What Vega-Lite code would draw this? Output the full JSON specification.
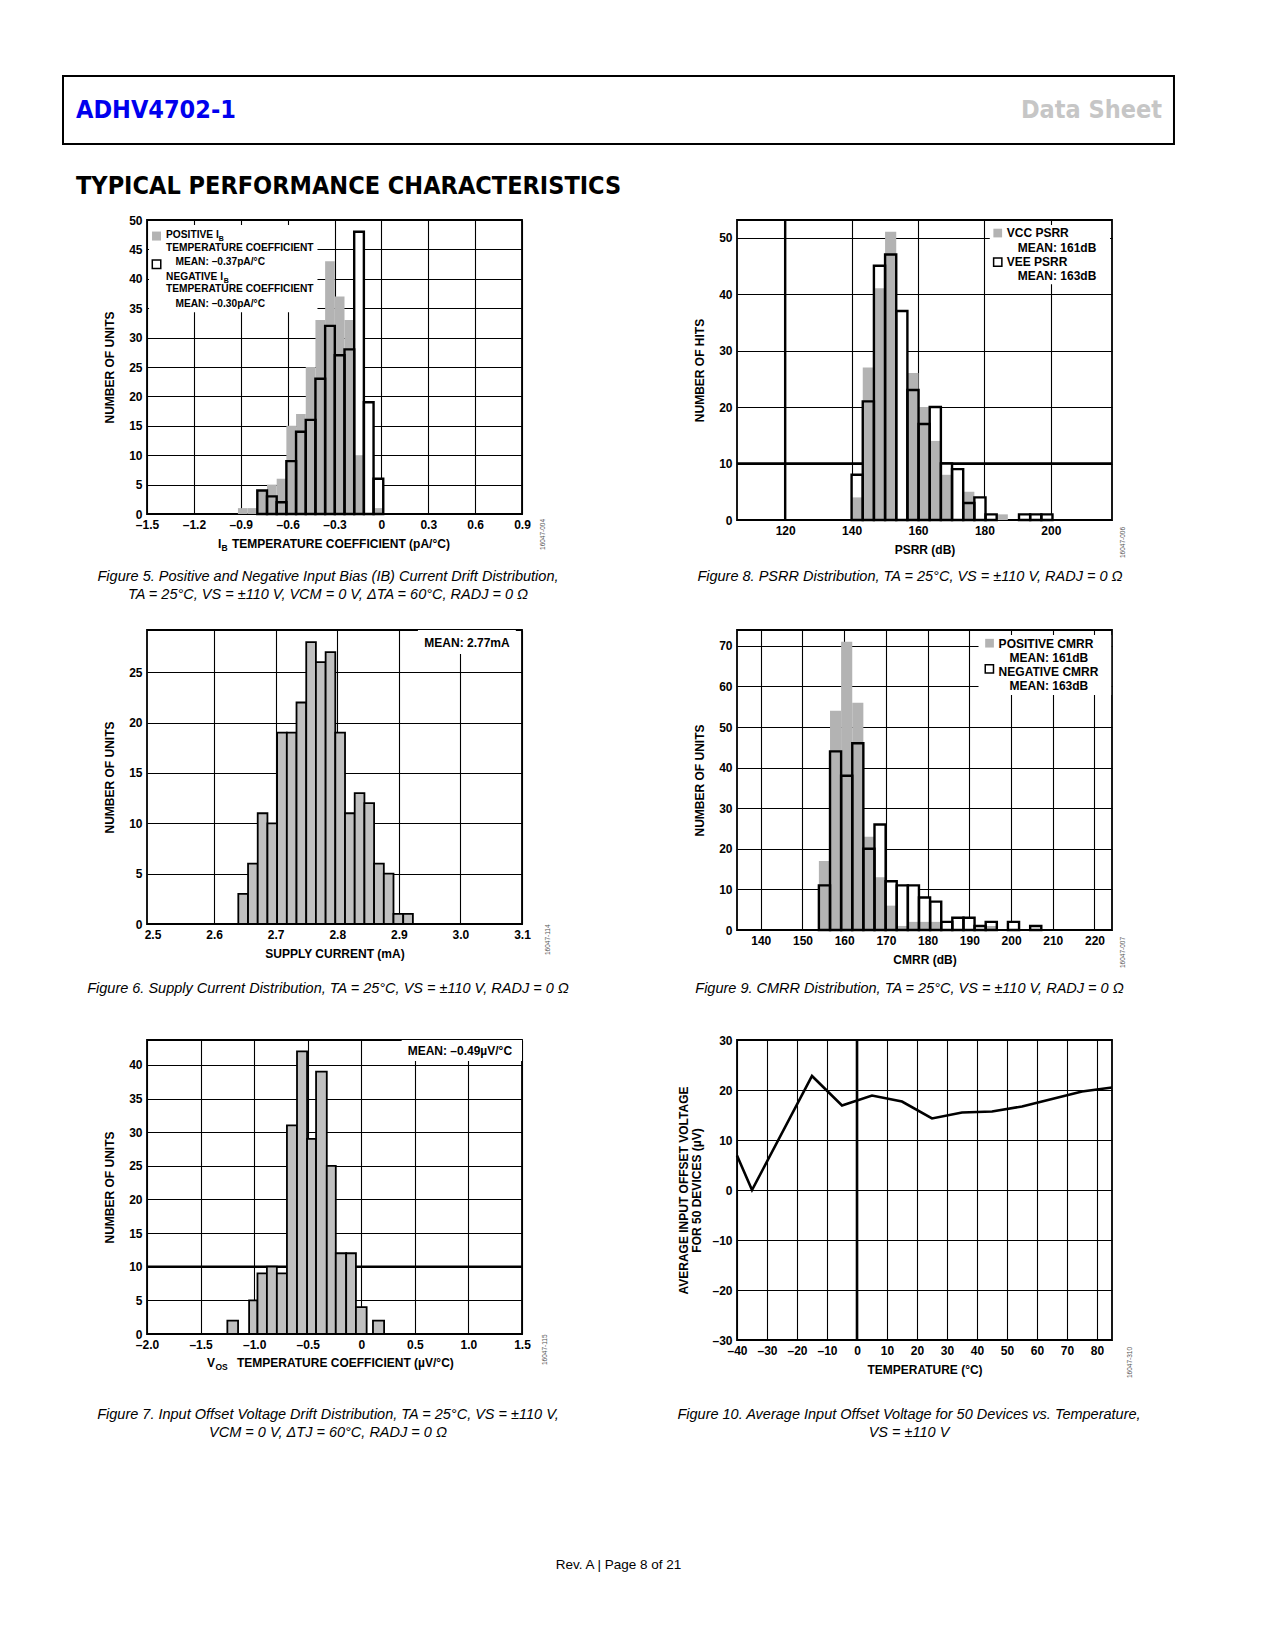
{
"$schema": "https://vega.github.io/schema/vega-lite/v6.json",
"autosize": {"type": "pad"},
"padding": {"left": 62, "top": 75, "right": 5, "bottom": 5},
"background": "#ffffff",
"columns": 4,
"spacing": 0,
"bounds": "flush",
"align": {"row": "each", "column": "each"},
"config": {
  "font": "Liberation Sans",
  "view": {"stroke": "#000000", "strokeWidth": 1.8},
  "axis": {"domain": false, "ticks": false, "grid": true, "gridColor": "#000000", "gridOpacity": 1, "gridWidth": 1.1, "tickCount": 40,
    "labelFont": "Liberation Sans", "labelFontSize": 12, "labelFontWeight": "bold", "labelColor": "#000000", "labelPadding": 5,
    "labelFlush": false, "labelOverlap": false, "labelBound": false,
    "titleFont": "Liberation Sans", "titleFontSize": 12, "titleFontWeight": "bold", "titleColor": "#000000"},
  "axisX": {"titlePadding": 8},
  "axisY": {"titlePadding": 12},
  "text": {"font": "Liberation Sans", "color": "#000000"}
},
"concat": [
  {
    "width": 84, "height": 68,
    "view": {"stroke": null},
    "data": {"values": [{}]},
    "layer": [
      {"mark": {"type": "rect", "fill": null, "stroke": "#000000", "strokeWidth": 2},
       "encoding": {"x": {"datum": 0, "type": "quantitative", "scale": {"domain": [0, 1], "nice": false, "zero": false}, "axis": null}, "x2": {"datum": 13.226},
                    "y": {"datum": 0, "type": "quantitative", "scale": {"domain": [0, 1], "nice": false, "zero": false}, "axis": null}, "y2": {"datum": 1}}},
      {"mark": {"type": "text", "text": "ADHV4702-1", "font": "Liberation Sans Narrow, DejaVu Sans Condensed, sans-serif", "fontWeight": "bold", "fontSize": 25, "color": "#0000ee", "align": "left", "baseline": "middle"},
       "encoding": {"x": {"datum": 0.1548, "type": "quantitative", "axis": null}, "y": {"datum": 0.5, "type": "quantitative", "axis": null}}},
      {"mark": {"type": "text", "text": "Data Sheet", "font": "Liberation Sans Narrow, DejaVu Sans Condensed, sans-serif", "fontWeight": "bold", "fontSize": 25, "color": "#c6c6c6", "align": "right", "baseline": "middle"},
       "encoding": {"x": {"datum": 13.083, "type": "quantitative", "axis": null}, "y": {"datum": 0.5, "type": "quantitative", "axis": null}}},
      {"mark": {"type": "text", "text": "TYPICAL PERFORMANCE CHARACTERISTICS", "font": "Liberation Sans Narrow, DejaVu Sans Condensed, sans-serif", "fontWeight": "bold", "fontSize": 25, "color": "#000000", "align": "left", "baseline": "middle"},
       "encoding": {"x": {"datum": 0.1548, "type": "quantitative", "axis": null}, "y": {"datum": -0.6176, "type": "quantitative", "axis": null}}}
    ]
  },
  {"width": 1, "height": 144, "view": {"stroke": null}, "data": {"values": []}, "mark": "text", "encoding": {"text": {"field": "t", "type": "nominal"}}},
  {"width": 1, "height": 1, "view": {"stroke": null}, "data": {"values": []}, "mark": "text", "encoding": {"text": {"field": "t", "type": "nominal"}}},
  {"width": 1, "height": 1, "view": {"stroke": null}, "data": {"values": []}, "mark": "text", "encoding": {"text": {"field": "t", "type": "nominal"}}},

  {"width": 84, "height": 410, "view": {"stroke": null}, "data": {"values": []}, "mark": "text", "encoding": {"text": {"field": "t", "type": "nominal"}}},
  {
    "width": 375, "height": 294,
    "data": {"values": [
      {"lo": -0.918, "hi": -0.856, "pos": 1, "neg": 0},
      {"lo": -0.856, "hi": -0.794, "pos": 1, "neg": 0},
      {"lo": -0.794, "hi": -0.732, "pos": 4, "neg": 4},
      {"lo": -0.732, "hi": -0.670, "pos": 5, "neg": 3},
      {"lo": -0.670, "hi": -0.608, "pos": 6, "neg": 2},
      {"lo": -0.608, "hi": -0.546, "pos": 15, "neg": 9},
      {"lo": -0.546, "hi": -0.484, "pos": 17, "neg": 14},
      {"lo": -0.484, "hi": -0.422, "pos": 25, "neg": 16},
      {"lo": -0.422, "hi": -0.360, "pos": 33, "neg": 23},
      {"lo": -0.360, "hi": -0.298, "pos": 43, "neg": 32},
      {"lo": -0.298, "hi": -0.236, "pos": 37, "neg": 27},
      {"lo": -0.236, "hi": -0.174, "pos": 33, "neg": 28},
      {"lo": -0.174, "hi": -0.112, "pos": 10, "neg": 48},
      {"lo": -0.112, "hi": -0.050, "pos": 0, "neg": 19},
      {"lo": -0.050, "hi": 0.012, "pos": 1, "neg": 6}
    ]},
    "layer": [
      {"mark": {"type": "rect", "fill": "#ffffff"}, "transform": [{"filter": "datum.neg > 0"}],
       "encoding": {
         "x": {"field": "lo", "type": "quantitative", "scale": {"domain": [-1.5, 0.9], "nice": false, "zero": false},
               "axis": {"values": [-1.5, -1.2, -0.9, -0.6, -0.3, 0, 0.3, 0.6, 0.9], "title": null,
                        "labelExpr": "datum.value == 0 ? '0' : replace(replace(format(datum.value, '.1f'), '\u2212', '\u2013'), '-', '\u2013')"}},
         "x2": {"field": "hi"},
         "y": {"field": "neg", "type": "quantitative", "scale": {"domain": [0, 50], "nice": false, "zero": false},
               "axis": {"values": [0, 5, 10, 15, 20, 25, 30, 35, 40, 45, 50], "title": "NUMBER OF UNITS"}},
         "y2": {"datum": 0}}},
      {"mark": {"type": "rect", "fill": "#b3b3b3"}, "transform": [{"filter": "datum.pos > 0"}],
       "encoding": {"x": {"field": "lo", "type": "quantitative"}, "x2": {"field": "hi"},
                    "y": {"field": "pos", "type": "quantitative"}, "y2": {"datum": 0}}},
      {"mark": {"type": "rect", "fill": null, "stroke": "#000000", "strokeWidth": 2.4}, "transform": [{"filter": "datum.neg > 0"}],
       "encoding": {"x": {"field": "lo", "type": "quantitative"}, "x2": {"field": "hi"},
                    "y": {"field": "neg", "type": "quantitative"}, "y2": {"datum": 0}}},
      {"data": {"values": [{}]}, "mark": {"type": "rect", "fill": "#ffffff"},
       "encoding": {"x": {"datum": -1.487, "type": "quantitative"}, "x2": {"datum": -0.409},
                    "y": {"datum": 49.15, "type": "quantitative"}, "y2": {"datum": 34.3}}},
      {"data": {"values": [{}]}, "mark": {"type": "point", "shape": "square", "filled": true, "fill": "#b3b3b3", "size": 81, "opacity": 1},
       "encoding": {"x": {"datum": -1.439, "type": "quantitative"}, "y": {"datum": 47.27, "type": "quantitative"}}},
      {"data": {"values": [{}]}, "mark": {"type": "point", "shape": "square", "filled": true, "fill": "#ffffff", "stroke": "#000000", "strokeWidth": 1.5, "size": 72, "opacity": 1},
       "encoding": {"x": {"datum": -1.439, "type": "quantitative"}, "y": {"datum": 42.49, "type": "quantitative"}}},
      {"data": {"values": [{}]}, "mark": {"type": "text", "text": ["POSITIVE I", "TEMPERATURE COEFFICIENT"], "align": "left", "baseline": "middle", "lineHeight": 13, "fontSize": 10.2, "fontWeight": "bold"},
       "encoding": {"x": {"datum": -1.378, "type": "quantitative"}, "y": {"datum": 47.39, "type": "quantitative"}}},
      {"data": {"values": [{}]}, "mark": {"type": "text", "text": ["NEGATIVE I", "TEMPERATURE COEFFICIENT"], "align": "left", "baseline": "middle", "lineHeight": 12.5, "fontSize": 10.2, "fontWeight": "bold"},
       "encoding": {"x": {"datum": -1.378, "type": "quantitative"}, "y": {"datum": 40.32, "type": "quantitative"}}},
      {"data": {"values": [{}]}, "mark": {"type": "text", "text": ["MEAN: \u20130.37pA/\u00b0C", "MEAN: \u20130.30pA/\u00b0C"], "align": "left", "baseline": "middle", "lineHeight": 41.7, "fontSize": 10.2, "fontWeight": "bold"},
       "encoding": {"x": {"datum": -1.318, "type": "quantitative"}, "y": {"datum": 42.83, "type": "quantitative"}}},
      {"data": {"values": [{}]}, "mark": {"type": "text", "text": "B", "align": "left", "baseline": "middle", "fontSize": 7, "fontWeight": "bold"},
       "encoding": {"x": {"datum": -1.041, "type": "quantitative"}, "y": {"datum": 46.76, "type": "quantitative"}}},
      {"data": {"values": [{}]}, "mark": {"type": "text", "text": "B", "align": "left", "baseline": "middle", "fontSize": 7, "fontWeight": "bold"},
       "encoding": {"x": {"datum": -1.009, "type": "quantitative"}, "y": {"datum": 39.64, "type": "quantitative"}}},
      {"data": {"values": [{}]}, "mark": {"type": "text", "text": "I", "align": "left", "baseline": "middle", "fontSize": 12, "fontWeight": "bold"},
       "encoding": {"x": {"datum": -1.0456, "type": "quantitative"}, "y": {"datum": -5.1, "type": "quantitative"}}},
      {"data": {"values": [{}]}, "mark": {"type": "text", "text": "B", "align": "left", "baseline": "middle", "fontSize": 8.5, "fontWeight": "bold"},
       "encoding": {"x": {"datum": -1.0232, "type": "quantitative"}, "y": {"datum": -5.78, "type": "quantitative"}}},
      {"data": {"values": [{}]}, "mark": {"type": "text", "text": "TEMPERATURE COEFFICIENT (pA/\u00b0C)", "align": "left", "baseline": "middle", "fontSize": 12, "fontWeight": "bold"},
       "encoding": {"x": {"datum": -0.956, "type": "quantitative"}, "y": {"datum": -5.1, "type": "quantitative"}}},
      {"data": {"values": [{}]}, "mark": {"type": "text", "text": ["Figure 5. Positive and Negative Input Bias (IB) Current Drift Distribution,", "TA = 25\u00b0C, VS = \u00b1110 V, VCM = 0 V, \u0394TA = 60\u00b0C, RADJ = 0 \u03a9"], "align": "center", "baseline": "middle", "lineHeight": 18, "fontSize": 14.5, "fontStyle": "italic"},
       "encoding": {"x": {"datum": -0.3416, "type": "quantitative"}, "y": {"datum": -10.714, "type": "quantitative"}}},
      {"data": {"values": [{}]}, "mark": {"type": "text", "text": "16047-004", "align": "left", "baseline": "middle", "angle": 270, "fontSize": 6.5, "color": "#555555"},
       "encoding": {"x": {"datum": 1.0344, "type": "quantitative"}, "y": {"datum": -6.12, "type": "quantitative"}}}
    ]
  },
  {"width": 215, "height": 1, "view": {"stroke": null}, "data": {"values": []}, "mark": "text", "encoding": {"text": {"field": "t", "type": "nominal"}}},
  {
    "width": 375, "height": 300,
    "data": {"values": [
      {"lo": 140.00, "hi": 143.36, "vcc": 4, "vee": 8},
      {"lo": 143.36, "hi": 146.72, "vcc": 27, "vee": 21},
      {"lo": 146.72, "hi": 150.08, "vcc": 41, "vee": 45},
      {"lo": 150.08, "hi": 153.44, "vcc": 51, "vee": 47},
      {"lo": 153.44, "hi": 156.80, "vcc": 0, "vee": 37},
      {"lo": 156.80, "hi": 160.16, "vcc": 26, "vee": 23},
      {"lo": 160.16, "hi": 163.52, "vcc": 20, "vee": 17},
      {"lo": 163.52, "hi": 166.88, "vcc": 14, "vee": 20},
      {"lo": 166.88, "hi": 170.24, "vcc": 8, "vee": 10},
      {"lo": 170.24, "hi": 173.60, "vcc": 0, "vee": 9},
      {"lo": 173.60, "hi": 176.96, "vcc": 5, "vee": 3},
      {"lo": 176.96, "hi": 180.32, "vcc": 0, "vee": 4},
      {"lo": 180.32, "hi": 183.68, "vcc": 0, "vee": 1},
      {"lo": 183.68, "hi": 187.04, "vcc": 1, "vee": 0},
      {"lo": 187.04, "hi": 190.40, "vcc": 0, "vee": 0},
      {"lo": 190.40, "hi": 193.76, "vcc": 0, "vee": 1},
      {"lo": 193.76, "hi": 197.12, "vcc": 0, "vee": 1},
      {"lo": 197.12, "hi": 200.48, "vcc": 0, "vee": 1}
    ]},
    "layer": [
      {"data": {"values": [{}]}, "mark": {"type": "rule", "color": "#000000", "strokeWidth": 2.4},
       "encoding": {"x": {"datum": 120, "type": "quantitative"}}},
      {"data": {"values": [{}]}, "mark": {"type": "rule", "color": "#000000", "strokeWidth": 2.4},
       "encoding": {"y": {"datum": 10, "type": "quantitative"}}},
      {"mark": {"type": "rect", "fill": "#ffffff"}, "transform": [{"filter": "datum.vee > 0"}],
       "encoding": {
         "x": {"field": "lo", "type": "quantitative", "scale": {"domain": [105.5, 218.4], "nice": false, "zero": false},
               "axis": {"values": [120, 140, 160, 180, 200], "title": "PSRR (dB)"}},
         "x2": {"field": "hi"},
         "y": {"field": "vee", "type": "quantitative", "scale": {"domain": [0, 53.1], "nice": false, "zero": false},
               "axis": {"values": [0, 10, 20, 30, 40, 50], "title": "NUMBER OF HITS"}},
         "y2": {"datum": 0}}},
      {"mark": {"type": "rect", "fill": "#b3b3b3"}, "transform": [{"filter": "datum.vcc > 0"}],
       "encoding": {"x": {"field": "lo", "type": "quantitative"}, "x2": {"field": "hi"},
                    "y": {"field": "vcc", "type": "quantitative"}, "y2": {"datum": 0}}},
      {"mark": {"type": "rect", "fill": null, "stroke": "#000000", "strokeWidth": 2.4}, "transform": [{"filter": "datum.vee > 0"}],
       "encoding": {"x": {"field": "lo", "type": "quantitative"}, "x2": {"field": "hi"},
                    "y": {"field": "vee", "type": "quantitative"}, "y2": {"datum": 0}}},
      {"data": {"values": [{}]}, "mark": {"type": "rect", "fill": "#ffffff"},
       "encoding": {"x": {"datum": 181.6, "type": "quantitative"}, "x2": {"datum": 217.8},
                    "y": {"datum": 52.2, "type": "quantitative"}, "y2": {"datum": 41.73}}},
      {"data": {"values": [{}]}, "mark": {"type": "point", "shape": "square", "filled": true, "fill": "#b3b3b3", "size": 76, "opacity": 1},
       "encoding": {"x": {"datum": 184.0, "type": "quantitative"}, "y": {"datum": 50.79, "type": "quantitative"}}},
      {"data": {"values": [{}]}, "mark": {"type": "point", "shape": "square", "filled": true, "fill": "#ffffff", "stroke": "#000000", "strokeWidth": 1.5, "size": 68, "opacity": 1},
       "encoding": {"x": {"datum": 184.0, "type": "quantitative"}, "y": {"datum": 45.64, "type": "quantitative"}}},
      {"data": {"values": [{}]}, "mark": {"type": "text", "text": ["VCC PSRR", "VEE PSRR"], "align": "left", "baseline": "middle", "lineHeight": 28.7, "fontSize": 12, "fontWeight": "bold"},
       "encoding": {"x": {"datum": 186.7, "type": "quantitative"}, "y": {"datum": 50.79, "type": "quantitative"}}},
      {"data": {"values": [{}]}, "mark": {"type": "text", "text": ["MEAN: 161dB", "MEAN: 163dB"], "align": "left", "baseline": "middle", "lineHeight": 28.6, "fontSize": 12, "fontWeight": "bold"},
       "encoding": {"x": {"datum": 190.0, "type": "quantitative"}, "y": {"datum": 48.18, "type": "quantitative"}}},
      {"data": {"values": [{}]}, "mark": {"type": "text", "text": "Figure 8. PSRR Distribution, TA = 25\u00b0C, VS = \u00b1110 V, RADJ = 0 \u03a9", "align": "center", "baseline": "middle", "fontSize": 14.5, "fontStyle": "italic"},
       "encoding": {"x": {"datum": 157.585, "type": "quantitative"}, "y": {"datum": -10.089, "type": "quantitative"}}},
      {"data": {"values": [{}]}, "mark": {"type": "text", "text": "16047-006", "align": "left", "baseline": "middle", "angle": 270, "fontSize": 6.5, "color": "#555555"},
       "encoding": {"x": {"datum": 221.71, "type": "quantitative"}, "y": {"datum": -6.726, "type": "quantitative"}}}
    ]
  },

  {"width": 84, "height": 410, "view": {"stroke": null}, "data": {"values": []}, "mark": "text", "encoding": {"text": {"field": "t", "type": "nominal"}}},
  {
    "width": 375, "height": 294,
    "data": {"values": [
      {"lo": 2.6393, "hi": 2.6551, "n": 3},
      {"lo": 2.6551, "hi": 2.6708, "n": 6},
      {"lo": 2.6708, "hi": 2.6866, "n": 11},
      {"lo": 2.6866, "hi": 2.7023, "n": 10},
      {"lo": 2.7023, "hi": 2.7181, "n": 19},
      {"lo": 2.7181, "hi": 2.7338, "n": 19},
      {"lo": 2.7338, "hi": 2.7496, "n": 22},
      {"lo": 2.7496, "hi": 2.7653, "n": 28},
      {"lo": 2.7653, "hi": 2.7811, "n": 26},
      {"lo": 2.7811, "hi": 2.7968, "n": 27},
      {"lo": 2.7968, "hi": 2.8126, "n": 19},
      {"lo": 2.8126, "hi": 2.8283, "n": 11},
      {"lo": 2.8283, "hi": 2.8441, "n": 13},
      {"lo": 2.8441, "hi": 2.8598, "n": 12},
      {"lo": 2.8598, "hi": 2.8756, "n": 6},
      {"lo": 2.8756, "hi": 2.8913, "n": 5},
      {"lo": 2.8913, "hi": 2.9071, "n": 1},
      {"lo": 2.9071, "hi": 2.9228, "n": 1}
    ]},
    "layer": [
      {"mark": {"type": "rect", "fill": "#c0c0c0", "stroke": "#000000", "strokeWidth": 1.8},
       "encoding": {
         "x": {"field": "lo", "type": "quantitative", "scale": {"domain": [2.491, 3.1], "nice": false, "zero": false},
               "axis": {"values": [2.5, 2.6, 2.7, 2.8, 2.9, 3.0, 3.1], "format": ".1f", "title": "SUPPLY CURRENT (mA)",
                        "gridOpacity": {"condition": {"test": "datum.value < 2.55", "value": 0}, "value": 1}}},
         "x2": {"field": "hi"},
         "y": {"field": "n", "type": "quantitative", "scale": {"domain": [0, 29.2], "nice": false, "zero": false},
               "axis": {"values": [0, 5, 10, 15, 20, 25], "title": "NUMBER OF UNITS"}},
         "y2": {"datum": 0}}},
      {"data": {"values": [{}]}, "mark": {"type": "rect", "fill": "#ffffff"},
       "encoding": {"x": {"datum": 2.931, "type": "quantitative"}, "x2": {"datum": 3.09},
                    "y": {"datum": 29.2, "type": "quantitative"}, "y2": {"datum": 26.82}}},
      {"data": {"values": [{}]}, "mark": {"type": "text", "text": "MEAN: 2.77mA", "align": "center", "baseline": "middle", "fontSize": 12, "fontWeight": "bold"},
       "encoding": {"x": {"datum": 3.0107, "type": "quantitative"}, "y": {"datum": 27.91, "type": "quantitative"}}},
      {"data": {"values": [{}]}, "mark": {"type": "text", "text": "Figure 6. Supply Current Distribution, TA = 25\u00b0C, VS = \u00b1110 V, RADJ = 0 \u03a9", "align": "center", "baseline": "middle", "fontSize": 14.5, "fontStyle": "italic"},
       "encoding": {"x": {"datum": 2.7849, "type": "quantitative"}, "y": {"datum": -6.456, "type": "quantitative"}}},
      {"data": {"values": [{}]}, "mark": {"type": "text", "text": "16047-114", "align": "left", "baseline": "middle", "angle": 270, "fontSize": 6.5, "color": "#555555"},
       "encoding": {"x": {"datum": 3.1422, "type": "quantitative"}, "y": {"datum": -3.079, "type": "quantitative"}}}
    ]
  },
  {"width": 215, "height": 1, "view": {"stroke": null}, "data": {"values": []}, "mark": "text", "encoding": {"text": {"field": "t", "type": "nominal"}}},
  {
    "width": 375, "height": 300,
    "data": {"values": [
      {"lo": 153.93, "hi": 156.60, "p": 17, "n": 11},
      {"lo": 156.60, "hi": 159.26, "p": 54, "n": 44},
      {"lo": 159.26, "hi": 161.93, "p": 71, "n": 38},
      {"lo": 161.93, "hi": 164.59, "p": 56, "n": 46},
      {"lo": 164.59, "hi": 167.26, "p": 23, "n": 20},
      {"lo": 167.26, "hi": 169.93, "p": 13, "n": 26},
      {"lo": 169.93, "hi": 172.59, "p": 6, "n": 12},
      {"lo": 172.59, "hi": 175.26, "p": 1, "n": 11},
      {"lo": 175.26, "hi": 177.92, "p": 2, "n": 11},
      {"lo": 177.92, "hi": 180.59, "p": 2, "n": 8},
      {"lo": 180.59, "hi": 183.26, "p": 2, "n": 7},
      {"lo": 183.26, "hi": 185.92, "p": 0, "n": 2},
      {"lo": 185.92, "hi": 188.59, "p": 0, "n": 3},
      {"lo": 188.59, "hi": 191.25, "p": 0, "n": 3},
      {"lo": 191.25, "hi": 193.92, "p": 0, "n": 1},
      {"lo": 193.92, "hi": 196.59, "p": 1, "n": 2},
      {"lo": 196.59, "hi": 199.25, "p": 0, "n": 0},
      {"lo": 199.25, "hi": 201.92, "p": 0, "n": 2},
      {"lo": 201.92, "hi": 204.58, "p": 0, "n": 0},
      {"lo": 204.58, "hi": 207.25, "p": 0, "n": 1}
    ]},
    "layer": [
      {"mark": {"type": "rect", "fill": "#ffffff"}, "transform": [{"filter": "datum.n > 0"}],
       "encoding": {
         "x": {"field": "lo", "type": "quantitative", "scale": {"domain": [134.3, 224.2], "nice": false, "zero": false},
               "axis": {"values": [140, 150, 160, 170, 180, 190, 200, 210, 220], "title": "CMRR (dB)"}},
         "x2": {"field": "hi"},
         "y": {"field": "n", "type": "quantitative", "scale": {"domain": [0, 73.9], "nice": false, "zero": false},
               "axis": {"values": [0, 10, 20, 30, 40, 50, 60, 70], "title": "NUMBER OF UNITS"}},
         "y2": {"datum": 0}}},
      {"mark": {"type": "rect", "fill": "#b3b3b3"}, "transform": [{"filter": "datum.p > 0"}],
       "encoding": {"x": {"field": "lo", "type": "quantitative"}, "x2": {"field": "hi"},
                    "y": {"field": "p", "type": "quantitative"}, "y2": {"datum": 0}}},
      {"mark": {"type": "rect", "fill": null, "stroke": "#000000", "strokeWidth": 2.4}, "transform": [{"filter": "datum.n > 0"}],
       "encoding": {"x": {"field": "lo", "type": "quantitative"}, "x2": {"field": "hi"},
                    "y": {"field": "n", "type": "quantitative"}, "y2": {"datum": 0}}},
      {"data": {"values": [{}]}, "mark": {"type": "rect", "fill": "#ffffff"},
       "encoding": {"x": {"datum": 192.2, "type": "quantitative"}, "x2": {"datum": 224.0},
                    "y": {"datum": 72.67, "type": "quantitative"}, "y2": {"datum": 57.89}}},
      {"data": {"values": [{}]}, "mark": {"type": "point", "shape": "square", "filled": true, "fill": "#b3b3b3", "size": 76, "opacity": 1},
       "encoding": {"x": {"datum": 194.84, "type": "quantitative"}, "y": {"datum": 70.65, "type": "quantitative"}}},
      {"data": {"values": [{}]}, "mark": {"type": "point", "shape": "square", "filled": true, "fill": "#ffffff", "stroke": "#000000", "strokeWidth": 1.5, "size": 68, "opacity": 1},
       "encoding": {"x": {"datum": 194.8, "type": "quantitative"}, "y": {"datum": 64.3, "type": "quantitative"}}},
      {"data": {"values": [{}]}, "mark": {"type": "text", "text": ["POSITIVE CMRR", "NEGATIVE CMRR"], "align": "left", "baseline": "middle", "lineHeight": 28.3, "fontSize": 12, "fontWeight": "bold"},
       "encoding": {"x": {"datum": 197.02, "type": "quantitative"}, "y": {"datum": 70.53, "type": "quantitative"}}},
      {"data": {"values": [{}]}, "mark": {"type": "text", "text": ["MEAN: 161dB", "MEAN: 163dB"], "align": "left", "baseline": "middle", "lineHeight": 28.6, "fontSize": 12, "fontWeight": "bold"},
       "encoding": {"x": {"datum": 199.65, "type": "quantitative"}, "y": {"datum": 67.08, "type": "quantitative"}}},
      {"data": {"values": [{}]}, "mark": {"type": "text", "text": "Figure 9. CMRR Distribution, TA = 25\u00b0C, VS = \u00b1110 V, RADJ = 0 \u03a9", "align": "center", "baseline": "middle", "fontSize": 14.5, "fontStyle": "italic"},
       "encoding": {"x": {"datum": 175.65, "type": "quantitative"}, "y": {"datum": -14.53, "type": "quantitative"}}},
      {"data": {"values": [{}]}, "mark": {"type": "text", "text": "16047-007", "align": "left", "baseline": "middle", "angle": 270, "fontSize": 6.5, "color": "#555555"},
       "encoding": {"x": {"datum": 226.84, "type": "quantitative"}, "y": {"datum": -9.36, "type": "quantitative"}}}
    ]
  },

  {"width": 84, "height": 376, "view": {"stroke": null}, "data": {"values": []}, "mark": "text", "encoding": {"text": {"field": "t", "type": "nominal"}}},
  {
    "width": 375, "height": 294,
    "data": {"values": [
      {"lo": -1.250, "hi": -1.150, "n": 2},
      {"lo": -1.047, "hi": -0.969, "n": 5},
      {"lo": -0.969, "hi": -0.881, "n": 9},
      {"lo": -0.881, "hi": -0.788, "n": 10},
      {"lo": -0.788, "hi": -0.694, "n": 9},
      {"lo": -0.694, "hi": -0.600, "n": 31},
      {"lo": -0.600, "hi": -0.506, "n": 42},
      {"lo": -0.506, "hi": -0.422, "n": 29},
      {"lo": -0.422, "hi": -0.322, "n": 39},
      {"lo": -0.322, "hi": -0.238, "n": 25},
      {"lo": -0.238, "hi": -0.141, "n": 12},
      {"lo": -0.141, "hi": -0.050, "n": 12},
      {"lo": -0.050, "hi": 0.050, "n": 4},
      {"lo": 0.109, "hi": 0.213, "n": 2}
    ]},
    "layer": [
      {"data": {"values": [{}]}, "mark": {"type": "rule", "color": "#000000", "strokeWidth": 2.4},
       "encoding": {"y": {"datum": 10, "type": "quantitative"}}},
      {"mark": {"type": "rect", "fill": "#c0c0c0", "stroke": "#000000", "strokeWidth": 1.8},
       "encoding": {
         "x": {"field": "lo", "type": "quantitative", "scale": {"domain": [-2, 1.5], "nice": false, "zero": false},
               "axis": {"values": [-2, -1.5, -1, -0.5, 0, 0.5, 1, 1.5], "title": null,
                        "labelExpr": "datum.value == 0 ? '0' : replace(replace(format(datum.value, '.1f'), '\u2212', '\u2013'), '-', '\u2013')"}},
         "x2": {"field": "hi"},
         "y": {"field": "n", "type": "quantitative", "scale": {"domain": [0, 43.7], "nice": false, "zero": false},
               "axis": {"values": [0, 5, 10, 15, 20, 25, 30, 35, 40], "title": "NUMBER OF UNITS"}},
         "y2": {"datum": 0}}},
      {"data": {"values": [{}]}, "mark": {"type": "rect", "fill": "#ffffff"},
       "encoding": {"x": {"datum": 0.377, "type": "quantitative"}, "x2": {"datum": 1.5},
                    "y": {"datum": 43.7, "type": "quantitative"}, "y2": {"datum": 40.56}}},
      {"data": {"values": [{}]}, "mark": {"type": "text", "text": "MEAN: \u20130.49\u00b5V/\u00b0C", "align": "center", "baseline": "middle", "fontSize": 12, "fontWeight": "bold"},
       "encoding": {"x": {"datum": 0.92, "type": "quantitative"}, "y": {"datum": 42.05, "type": "quantitative"}}},
      {"data": {"values": [{}]}, "mark": {"type": "text", "text": "V", "align": "left", "baseline": "middle", "fontSize": 12, "fontWeight": "bold"},
       "encoding": {"x": {"datum": -1.44, "type": "quantitative"}, "y": {"datum": -4.31, "type": "quantitative"}}},
      {"data": {"values": [{}]}, "mark": {"type": "text", "text": "OS", "align": "left", "baseline": "middle", "fontSize": 8.5, "fontWeight": "bold"},
       "encoding": {"x": {"datum": -1.3607, "type": "quantitative"}, "y": {"datum": -4.9, "type": "quantitative"}}},
      {"data": {"values": [{}]}, "mark": {"type": "text", "text": "TEMPERATURE COEFFICIENT (\u00b5V/\u00b0C)", "align": "left", "baseline": "middle", "fontSize": 12, "fontWeight": "bold"},
       "encoding": {"x": {"datum": -1.16, "type": "quantitative"}, "y": {"datum": -4.31, "type": "quantitative"}}},
      {"data": {"values": [{}]}, "mark": {"type": "text", "text": ["Figure 7. Input Offset Voltage Drift Distribution, TA = 25\u00b0C, VS = \u00b1110 V,", "VCM = 0 V, \u0394TJ = 60\u00b0C, RADJ = 0 \u03a9"], "align": "center", "baseline": "middle", "lineHeight": 18, "fontSize": 14.5, "fontStyle": "italic"},
       "encoding": {"x": {"datum": -0.3107, "type": "quantitative"}, "y": {"datum": -12.04, "type": "quantitative"}}},
      {"data": {"values": [{}]}, "mark": {"type": "text", "text": "16047-115", "align": "left", "baseline": "middle", "angle": 270, "fontSize": 6.5, "color": "#555555"},
       "encoding": {"x": {"datum": 1.7147, "type": "quantitative"}, "y": {"datum": -4.61, "type": "quantitative"}}}
    ]
  },
  {"width": 215, "height": 1, "view": {"stroke": null}, "data": {"values": []}, "mark": "text", "encoding": {"text": {"field": "t", "type": "nominal"}}},
  {
    "width": 375, "height": 300,
    "data": {"values": [
      {"temp": -40, "v": 6.9},
      {"temp": -35, "v": 0.0},
      {"temp": -15, "v": 22.8},
      {"temp": -5, "v": 16.9},
      {"temp": 5, "v": 18.9},
      {"temp": 15, "v": 17.7},
      {"temp": 25, "v": 14.3},
      {"temp": 35, "v": 15.5},
      {"temp": 45, "v": 15.7},
      {"temp": 55, "v": 16.7},
      {"temp": 65, "v": 18.2},
      {"temp": 75, "v": 19.7},
      {"temp": 85, "v": 20.5}
    ]},
    "layer": [
      {"data": {"values": [{}]}, "mark": {"type": "rule", "color": "#000000", "strokeWidth": 2.6},
       "encoding": {"x": {"datum": 0, "type": "quantitative"}}},
      {"mark": {"type": "line", "color": "#000000", "strokeWidth": 2.6},
       "encoding": {
         "x": {"field": "temp", "type": "quantitative", "scale": {"domain": [-40, 85], "nice": false, "zero": false},
               "axis": {"values": [-40, -30, -20, -10, 0, 10, 20, 30, 40, 50, 60, 70, 80], "title": "TEMPERATURE (\u00b0C)",
                        "labelExpr": "replace(replace(format(datum.value, 'd'), '\u2212', '\u2013'), '-', '\u2013')"}},
         "y": {"field": "v", "type": "quantitative", "scale": {"domain": [-30, 30], "nice": false, "zero": false},
               "axis": {"values": [-30, -20, -10, 0, 10, 20, 30], "title": ["AVERAGE INPUT OFFSET VOLTAGE", "FOR 50 DEVICES (\u00b5V)"], "titleLineHeight": 13, "titlePadding": 8,
                        "labelExpr": "replace(replace(format(datum.value, 'd'), '\u2212', '\u2013'), '-', '\u2013')"}}}},
      {"data": {"values": [{}]}, "mark": {"type": "text", "text": ["Figure 10. Average Input Offset Voltage for 50 Devices vs. Temperature,", "VS = \u00b1110 V"], "align": "center", "baseline": "middle", "lineHeight": 18, "fontSize": 14.5, "fontStyle": "italic"},
       "encoding": {"x": {"datum": 17.333, "type": "quantitative"}, "y": {"datum": -45, "type": "quantitative"}}},
      {"data": {"values": [{}]}, "mark": {"type": "text", "text": "16047-310", "align": "left", "baseline": "middle", "angle": 270, "fontSize": 6.5, "color": "#555555"},
       "encoding": {"x": {"datum": 91.0, "type": "quantitative"}, "y": {"datum": -37.6, "type": "quantitative"}}}
    ]
  },

  {
    "width": 84, "height": 149,
    "view": {"stroke": null},
    "data": {"values": [{}]},
    "mark": {"type": "text", "text": "Rev. A | Page 8 of 21", "font": "Liberation Sans", "fontSize": 13.5, "align": "center", "baseline": "middle", "color": "#000000"},
    "encoding": {"x": {"datum": 6.613, "type": "quantitative", "scale": {"domain": [0, 1], "nice": false}, "axis": null},
                 "y": {"datum": 0, "type": "quantitative", "scale": {"domain": [0, 1], "nice": false}, "axis": null}}
  },
  {"width": 1, "height": 1, "view": {"stroke": null}, "data": {"values": []}, "mark": "text", "encoding": {"text": {"field": "t", "type": "nominal"}}},
  {"width": 1, "height": 1, "view": {"stroke": null}, "data": {"values": []}, "mark": "text", "encoding": {"text": {"field": "t", "type": "nominal"}}},
  {"width": 1, "height": 1, "view": {"stroke": null}, "data": {"values": []}, "mark": "text", "encoding": {"text": {"field": "t", "type": "nominal"}}}
]
}
